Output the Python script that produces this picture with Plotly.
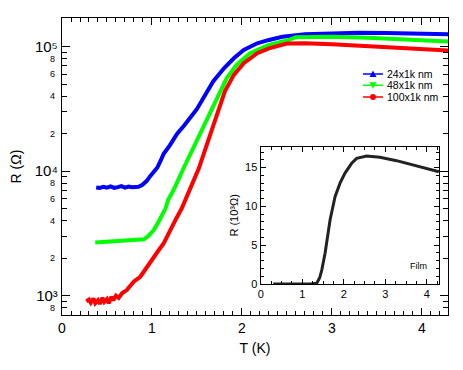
import math
import plotly.graph_objects as go

# ---------------- data ----------------
t_blue = [0.38,0.42,0.46,0.50,0.54,0.58,0.62,0.66,0.70,0.74,0.78,0.82,0.85,0.89,0.94,0.98,1.02,1.06,1.10,1.13,1.20,1.28,1.36,1.43,1.50,1.57,1.68,1.80,1.91,2.02,2.17,2.30,2.45,2.70,3.00,3.30,3.60,3.90,4.29]
r_blue = [7400,7330,7500,7380,7550,7350,7450,7580,7380,7520,7420,7480,7500,7740,8320,9120,9770,10700,12300,13800,16200,20000,23400,27500,31600,38500,52500,67000,80700,94000,106400,113200,120200,125900,128800,129400,128800,127900,125900]

t_green = [0.37,0.45,0.55,0.65,0.75,0.85,0.91,0.96,1.02,1.08,1.13,1.15,1.18,1.24,1.35,1.43,1.52,1.61,1.72,1.83,1.94,2.09,2.30,2.50,2.60,3.00,3.40,3.80,4.29]
r_green = [2670,2700,2730,2760,2790,2820,2840,3020,3370,4000,4590,5010,5890,7060,10500,13930,18600,25700,38000,55700,71300,88500,103300,112000,119000,120000,118000,114800,110000]

t_red = [0.27,0.30,0.32,0.35,0.37,0.40,0.42,0.45,0.47,0.50,0.52,0.55,0.57,0.60,0.63,0.67,0.72,0.80,0.87,0.95,1.02,1.08,1.13,1.20,1.27,1.33,1.39,1.43,1.52,1.58,1.65,1.72,1.81,1.91,2.02,2.17,2.30,2.50,2.70,3.00,3.40,3.80,4.29]
r_red = [900,930,880,950,870,920,860,960,890,940,870,980,920,1000,960,1050,1110,1300,1420,1740,2060,2350,2630,3370,4170,5010,6300,7500,10500,14100,20100,29200,43700,59300,73600,88500,97000,106000,106700,104700,101000,97000,93300]

t_film = [0.3,0.6,0.9,1.2,1.35,1.42,1.47,1.55,1.67,1.79,1.91,2.03,2.19,2.31,2.55,2.87,3.27,3.67,3.88,4.0,4.29]
r_film = [0,0,0,0,0.1,0.8,1.8,3.96,8.25,11.25,13.0,14.3,15.56,16.2,16.5,16.33,15.9,15.34,15.1,14.9,14.48]

series_names = ["24x1k nm", "48x1k nm", "100x1k nm"]
series_colors = ["#0000ff", "#00ff00", "#ff0000"]

y_decades = [1000, 10000, 100000]
y_decade_text = ["10³", "10⁴", "10⁵"]
y_sub_vals = [800, 2000, 4000, 6000, 8000, 20000, 40000, 60000, 80000]
y_sub_text = ["8", "2", "4", "6", "8", "2", "4", "6", "8"]
y_minor = [700, 800, 900, 2000, 3000, 4000, 5000, 6000, 7000, 8000, 9000,
           20000, 30000, 40000, 50000, 60000, 70000, 80000, 90000, 200000]

# ---------------- geometry ----------------
# the page body adds an 8 px offset; the plot area should land at x 62..448, y 18..315
OFF = 8
W, H = 463 - OFF, 370 - OFF
L, R, T, B = 62, 448, 18, 315        # page coordinates of the plot area
def px(x):
    return (x - L) / (R - L)
def py(y):
    return (B - y) / (B - T)

fig = go.Figure()
for t, r, c, n in zip([t_blue, t_green, t_red], [r_blue, r_green, r_red], series_colors, series_names):
    fig.add_trace(go.Scatter(x=t, y=r, mode="lines", name=n,
                             line=dict(color=c, width=4), showlegend=False))

fig.add_trace(go.Scatter(x=t_film, y=r_film, mode="lines", xaxis="x2", yaxis="y2",
                         line=dict(color="#222222", width=3), showlegend=False))

axis_common = dict(showline=True, linecolor="black", linewidth=1.3, mirror="ticks",
                   ticks="inside", tickcolor="black", tickwidth=1, showgrid=False,
                   zeroline=False, automargin=False)

fig.update_layout(
    width=W, height=H,
    margin=dict(l=L - OFF, r=463 - R, t=T - OFF, b=370 - B),
    paper_bgcolor="white", plot_bgcolor="white",
    font=dict(family="Liberation Sans, Arial, sans-serif", color="black", size=14),
    xaxis=dict(range=[0, 4.29], tickvals=[0,1,2,3,4], ticklen=7,
               minor=dict(dtick=0.1, tick0=0, ticklen=4, ticks="inside", tickcolor="black"),
               title=dict(text="T (K)", standoff=8, font=dict(size=14)),
               tickfont=dict(size=14), **axis_common),
    yaxis=dict(type="log", range=[2.845, 5.23], tickmode="array", tickvals=y_decades,
               ticktext=y_decade_text, ticklen=8,
               minor=dict(tickmode="array", tickvals=y_minor, ticklen=5, ticks="inside", tickcolor="black"),
               title=dict(text="R (Ω)", standoff=10, font=dict(size=14)),
               tickfont=dict(size=15), **axis_common),
    xaxis2=dict(domain=[px(260.7), px(439.3)], anchor="y2", range=[0, 4.3],
                tickvals=[0,1,2,3,4], ticklen=5,
                minor=dict(dtick=0.25, tick0=0, ticklen=3, ticks="inside", tickcolor="black"),
                tickfont=dict(size=11), **axis_common),
    yaxis2=dict(domain=[py(284), py(146.7)], anchor="x2", range=[0, 17.7],
                tickvals=[0,5,10,15], ticklen=5,
                minor=dict(dtick=1, tick0=0, ticklen=3, ticks="inside", tickcolor="black"),
                title=dict(text="R (10³Ω)", standoff=4, font=dict(size=11)),
                tickfont=dict(size=11), **axis_common),
)

# small sub-decade labels on the log axis
for v, s in zip(y_sub_vals, y_sub_text):
    fig.add_annotation(text=s, xref="paper", yref="y", x=-0.012, y=math.log10(v),
                       showarrow=False, xanchor="right", yanchor="middle",
                       font=dict(size=9))

# Film label in inset
fig.add_annotation(text="Film", xref="paper", yref="paper", x=px(418), y=py(266),
                   showarrow=False, font=dict(size=9), xanchor="center", yanchor="middle")

# compact legend
rows_y = [74.0, 85.3, 97.0]
symbols = ["up", "down", "circle"]
for yy, c, n, s in zip(rows_y, series_colors, series_names, symbols):
    fig.add_shape(type="line", xref="paper", yref="paper",
                  x0=px(363), x1=px(383), y0=py(yy), y1=py(yy),
                  line=dict(color=c, width=1.5))
    cx, cy = 373.0, yy
    if s == "circle":
        fig.add_shape(type="circle", xref="paper", yref="paper",
                      x0=px(cx - 3), x1=px(cx + 3), y0=py(cy + 3), y1=py(cy - 3),
                      fillcolor=c, line=dict(color=c, width=0))
    else:
        if s == "up":
            pts = [(cx - 3.5, cy + 3), (cx + 3.5, cy + 3), (cx, cy - 3.5)]
        else:
            pts = [(cx - 3.5, cy - 3), (cx + 3.5, cy - 3), (cx, cy + 3.5)]
        path = "M %f %f L %f %f L %f %f Z" % tuple(v for p in pts for v in (px(p[0]), py(p[1])))
        fig.add_shape(type="path", xref="paper", yref="paper", path=path,
                      fillcolor=c, line=dict(color=c, width=0))
    fig.add_annotation(text=n, xref="paper", yref="paper", x=px(385), y=py(yy),
                       showarrow=False, xanchor="left", yanchor="middle",
                       font=dict(size=10.5))

fig.write_html("out.html")
